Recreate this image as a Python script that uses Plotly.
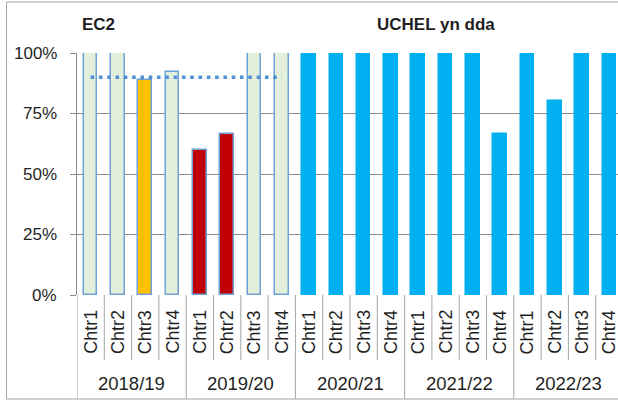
import plotly.graph_objects as go

# ---- data ----
years = ["2018/19", "2019/20", "2020/21", "2021/22", "2022/23"]
quarters = ["Chtr1", "Chtr2", "Chtr3", "Chtr4"]
values = [1.00, 1.00, 0.889, 0.923,
          0.60, 0.667, 1.00, 1.00,
          1.00, 1.00, 1.00, 1.00,
          1.00, 1.00, 1.00, 0.667,
          1.00, 0.80, 1.00, 1.00]
status = ["green", "green", "amber", "green",
          "red", "red", "green", "green"] + ["current"] * 12
target_value = 0.90
target_quarters = 8
y_ticks = [0, 0.25, 0.5, 0.75, 1.0]
y_tick_labels = ["0%", "25%", "50%", "75%", "100%"]
title_left = "EC2"
title_right = "UCHEL yn dda"

# ---- styles ----
fill_map = {"green": "#E2EFDA", "amber": "#FFC000", "red": "#C00000", "current": "#00B0F0"}
line_map = {"green": "#6FA0D8", "amber": "#6FA0D8", "red": "#6FA0D8", "current": "#00B0F0"}
FONT = "Liberation Sans, Arial, sans-serif"
TXT = "#1f1f1f"
GRID = "#8C8C8C"
DIV = "#A6A6A6"

n = len(values)
xs = list(range(n))

fig = go.Figure()
fig.add_trace(go.Bar(
    x=xs, y=values, width=0.5,
    marker=dict(color=[fill_map[s] for s in status],
                line=dict(color=[line_map[s] for s in status], width=1.5)),
    showlegend=False, hoverinfo="skip",
))
fig.add_trace(go.Scatter(
    x=xs[:target_quarters], y=[target_value] * target_quarters, mode="lines",
    line=dict(color="#4F8FD4", width=3.5, dash="3.5px,4.8px"),
    showlegend=False, hoverinfo="skip",
))

# plot geometry (pixels) used only for label/frame placement
L, T, B = 77, 53, 105
W, H = 618, 400
plot_w = W - L
plot_h = H - T - B
px_per_cat = 27.3
x_max = plot_w / px_per_cat - 0.5

def py(pix):  # pixel y -> paper y
    return (H - B - pix) / plot_h

def px(pix):  # pixel x -> paper x
    return (pix - L) / plot_w

shapes = []
# category dividers (year boundaries run to the frame)
for i in range(n + 1):
    b = i - 0.5
    full = (i % len(quarters) == 0)
    shapes.append(dict(type="line", xref="x", yref="paper", x0=b, x1=b,
                       y0=0, y1=py(399) if full else py(360),
                       line=dict(color=DIV, width=1), layer="below"))
# outer frame
shapes.append(dict(type="rect", xref="paper", yref="paper",
                   x0=px(6.5), x1=px(640), y0=py(399), y1=py(2),
                   line=dict(color="#A6A6A6", width=1), layer="below"))

annotations = []
for v, lab in zip(y_ticks, y_tick_labels):
    annotations.append(dict(x=px(58.5), y=v, xref="paper", yref="y", text=lab,
                            showarrow=False, xanchor="right", yanchor="middle",
                            font=dict(family=FONT, size=17, color=TXT)))
for i in range(n):
    annotations.append(dict(x=i, y=py(332), xref="x", yref="paper",
                            text=quarters[i % len(quarters)], textangle=-90,
                            showarrow=False, font=dict(family=FONT, size=18, color=TXT),
                            xanchor="center", yanchor="middle"))
for g, yr in enumerate(years):
    c = g * len(quarters) + (len(quarters) - 1) / 2
    annotations.append(dict(x=c, y=py(383), xref="x", yref="paper", text=yr,
                            showarrow=False, font=dict(family=FONT, size=18.5, color=TXT),
                            xanchor="center", yanchor="middle"))
annotations.append(dict(x=px(80), y=py(25), xref="paper", yref="paper",
                        text="<b>" + title_left + "</b>", showarrow=False,
                        xanchor="left", yanchor="middle",
                        font=dict(family=FONT, size=17, color=TXT)))
annotations.append(dict(x=px(435.5), y=py(25), xref="paper", yref="paper",
                        text="<b>" + title_right + "</b>", showarrow=False,
                        xanchor="center", yanchor="middle",
                        font=dict(family=FONT, size=17, color=TXT)))

fig.update_layout(
    width=W, height=H,
    margin=dict(l=L, r=0, t=T, b=B, pad=0),
    paper_bgcolor="white", plot_bgcolor="white",
    bargap=0,
    shapes=shapes, annotations=annotations,
    xaxis=dict(range=[-0.5, x_max], showticklabels=False, showgrid=False,
               zeroline=False, showline=False, ticks="", fixedrange=True),
    yaxis=dict(range=[0, 1], tickvals=y_ticks, showticklabels=False,
               showgrid=True, gridcolor=GRID, gridwidth=1,
               zeroline=False, showline=True, linecolor=GRID, linewidth=1,
               ticks="outside", ticklen=6, tickcolor=GRID,
               automargin=False, fixedrange=True),
)

fig.write_html("out.html", config={"displayModeBar": False},
               post_script="document.body.style.margin='0px';document.body.style.overflow='hidden';")
